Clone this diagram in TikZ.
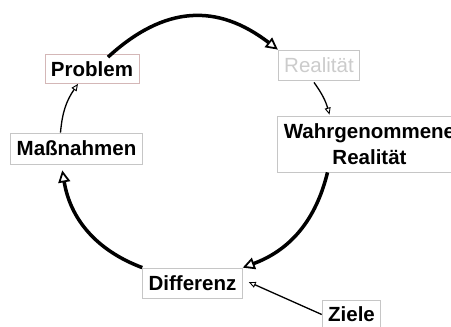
\documentclass[tikz,border=0pt]{standalone}
\usepackage{fontspec}
\setmainfont{Liberation Sans}
\usetikzlibrary{arrows.meta,calc}

\begin{document}
\begin{tikzpicture}[x=1pt,y=1pt,
  box/.style={draw=gray!45,line width=0.8pt,fill=white,inner xsep=6pt,inner ysep=2pt,minimum height=29pt,align=center,
    font=\fontsize{20.5}{26}\selectfont\bfseries},
  bigarrow/.style={line width=3.5pt,-{Triangle[open,length=12pt,width=12pt,line width=1.8pt]}},
  smallarrow/.style={line width=1.3pt,-{Triangle[open,length=7pt,width=6pt,line width=0.9pt]}}]
\useasboundingbox (0,0) rectangle (451,-327);
\clip (0,0) rectangle (451,-327);
\node[box,draw=red!25!gray!45] (prob) at (92,-69) {Problem};
\node[box,text=gray!40,font=\fontsize{20.5}{26}\selectfont,minimum height=30pt] (real) at (319,-65) {Realität};
\node[box,minimum height=56pt] (wahr) at (369.5,-144) {Wahrgenommene\\Realität};
\node[box,minimum height=31pt] (mass) at (76.5,-148.5) {Maßnahmen};
\node[box,minimum height=30pt] (diff) at (192.5,-283) {Differenz};
\node[box] (ziel) at (351.5,-314.5) {Ziele};
% Regelkreis
\draw[bigarrow] ($(prob.north)+(16,-3)$) to[bend left=40,looseness=1.15] (real.north west);
\draw[smallarrow] ($(real.south)+(-5,-2)$) to[bend left=10] ($(wahr.north)+(-40,1)$);
\draw[bigarrow] ($(wahr.south)+(-42,0)$) to[bend left=28] (diff.north east);
\draw[bigarrow] (diff.north west) to[bend left=30] ($(mass.south west)+(52,-6)$);
\draw[smallarrow] ($(mass.north)+(-16,0)$) to[bend left=15] ($(prob.south)+(-14,0)$);
\draw[smallarrow] (ziel.west) -- ($(diff.east)+(6,1)$);
\end{tikzpicture}
\end{document}
